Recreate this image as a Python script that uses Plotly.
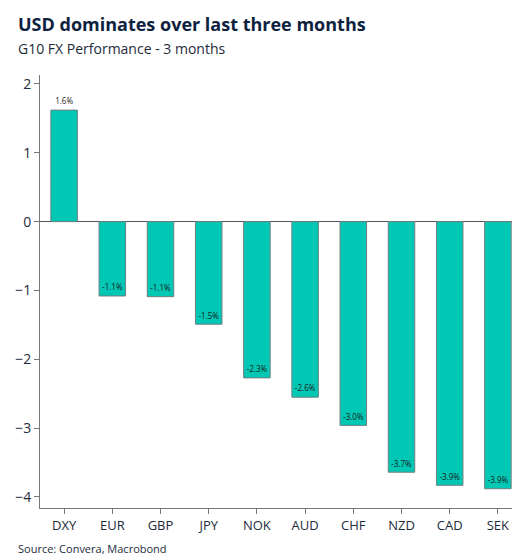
import plotly.graph_objects as go

categories = ["DXY","EUR","GBP","JPY","NOK","AUD","CHF","NZD","CAD","SEK"]
values = [1.62,-1.08,-1.09,-1.49,-2.27,-2.55,-2.96,-3.64,-3.83,-3.88]
labels = ["1.6%","-1.1%","-1.1%","-1.5%","-2.3%","-2.6%","-3.0%","-3.7%","-3.9%","-3.9%"]

fig = go.Figure(go.Bar(
    x=categories, y=values, text=labels,
    textposition=["outside" if v > 0 else "inside" for v in values],
    insidetextanchor="end", textangle=0,
    textfont=dict(size=9, color="#1a1a1a", family="Open Sans"),
    outsidetextfont=dict(size=9, color="#1a1a1a"),
    marker=dict(color="#00C8B4", line=dict(color="#6f7f80", width=1)),
    width=0.55, cliponaxis=False,
))
fig.update_layout(
    width=520, height=559, plot_bgcolor="white", paper_bgcolor="white",
    margin=dict(l=32, r=6, t=67, b=59, autoexpand=False), showlegend=False,
    font=dict(family="Open Sans", color="#1d2b3a"),
    uniformtext=dict(minsize=8, mode="show"),
    annotations=[
        dict(text="<b>USD dominates over last three months</b>", x=0, y=1, xref="paper", yref="paper",
             xanchor="left", yanchor="top", showarrow=False, font=dict(size=18, color="#0e2240"),
             xshift=-24, yshift=65),
        dict(text="G10 FX Performance - 3 months", x=0, y=1, xref="paper", yref="paper",
             xanchor="left", yanchor="top", showarrow=False, font=dict(size=14, color="#1d2b3a"),
             xshift=-24, yshift=38),
        dict(text="Source: Convera, Macrobond", x=0, y=0, xref="paper", yref="paper",
             xanchor="left", yanchor="top", showarrow=False, font=dict(size=11, color="#1d2b3a"),
             xshift=-24, yshift=-31),
    ],
)
fig.update_yaxes(range=[-4.16, 2.13], tickvals=[-4,-3,-2,-1,0,1,2], showgrid=False, automargin=False,
                 zeroline=True, zerolinecolor="#555", zerolinewidth=1,
                 showline=True, linecolor="#777", ticks="outside", ticklen=5, tickcolor="#777",
                 tickfont=dict(size=14, color="#1d2b3a"))
fig.update_xaxes(showline=True, linecolor="#777", ticks="outside", ticklen=5, tickcolor="#777",
                 automargin=False, tickfont=dict(size=13, color="#1d2b3a"))
fig.write_html("out.html")
